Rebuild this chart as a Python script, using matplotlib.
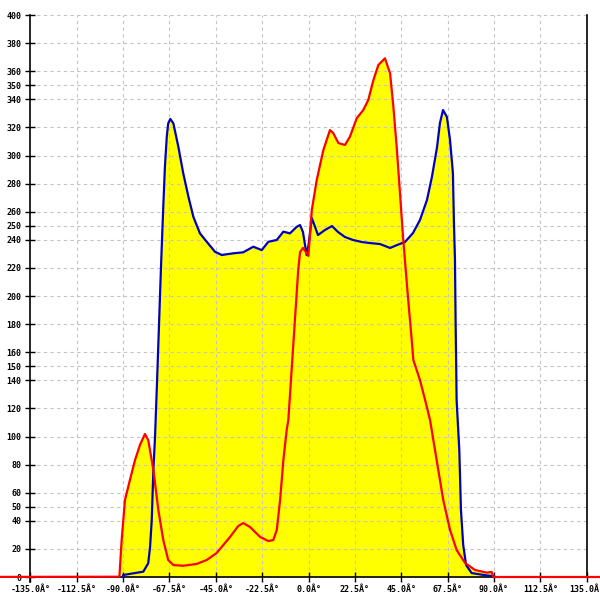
import matplotlib
matplotlib.use('Agg')
import matplotlib.pyplot as plt
import numpy as np

# blue series (angle in degrees, value)
blue_deg = [-90.0, -90.0, -80.2, -77.8, -76.9, -76.1, -75.3, -74.5, -73.5, -71.6, -70.5, -69.7,
            -68.8, -68.1, -67.1, -65.6, -63.2, -60.8, -58.3, -55.9, -52.7, -49.4, -45.4, -42.1,
            -36.5, -31.7, -26.8, -22.7, -19.5, -15.4, -12.2, -9.0, -5.7, -4.1, -2.7, -0.9, 0.0,
            1.6, 3.2, 4.6, 8.0, 11.4, 14.3, 17.7, 21.6, 26.0, 29.9, 34.7, 39.6, 43.0, 46.8, 50.7,
            54.1, 57.5, 59.9, 62.4, 63.8, 65.3, 67.2, 68.7, 70.1, 70.6, 71.1, 71.4, 71.9, 73.2,
            74.0, 75.1, 76.5, 79.2, 86.5, 89.4, 90.0, 90.0]
blue_val = [0.0, 1.4, 3.8, 9.8, 21.6, 40.6, 76.2, 99.9, 140.2, 220.9, 263.6, 292.0,
            313.4, 322.9, 326.0, 322.9, 306.3, 287.3, 270.7, 256.4, 244.6, 238.6, 231.5, 229.2,
            230.4, 231.1, 235.1, 232.7, 238.6, 239.9, 245.8, 244.6, 249.3, 250.5, 245.6, 229.2, 236.3,
            255.5, 249.1, 243.4, 247.0, 249.8, 245.6, 242.0, 239.9, 238.4, 237.7, 237.0, 234.2, 236.3,
            238.4, 244.8, 254.1, 268.3, 284.7, 306.0, 323.1, 332.4, 327.4, 311.0, 287.5, 252.0, 225.6,
            182.9, 126.0, 90.4, 47.7, 22.8, 8.5, 2.8, 1.1, 0.7, 0.7, 0.0]

# red series
red_deg = [-180.0, -91.8, -90.7, -89.1, -86.7, -84.2, -81.8, -79.4, -77.8, -75.3, -72.9, -70.5,
           -68.1, -65.6, -60.8, -54.3, -49.4, -44.6, -38.1, -34.1, -31.7, -28.4, -23.5, -19.5,
           -17.1, -15.4, -13.8, -12.2, -10.6, -9.8, -8.2, -6.6, -5.0, -4.1, -2.7, -0.9, -0.1,
           0.7, 1.6, 4.0, 7.2, 10.4, 12.0, 14.5, 17.7, 20.1, 23.4, 26.6, 29.0, 31.5, 33.9, 37.1,
           39.6, 41.2, 42.8, 44.4, 46.0, 46.8, 48.4, 50.1, 50.9, 54.1, 56.6, 59.0, 62.2, 65.4,
           68.7, 71.9, 76.0, 80.8, 86.5, 88.9, 89.8, 180.0]
red_val = [0.0, 0.2, 26.3, 54.8, 69.0, 83.3, 94.0, 101.8, 97.5, 76.2, 47.7, 26.3,
           12.1, 8.5, 8.0, 9.3, 12.1, 17.1, 28.5, 36.3, 38.4, 35.6, 28.5, 25.6,
           26.3, 33.5, 54.8, 83.3, 104.6, 111.7, 147.3, 182.9, 218.5, 231.3, 234.2, 230.6, 228.5,
           243.4, 261.2, 282.6, 303.9, 318.1, 316.0, 308.9, 307.5, 313.4, 326.5, 332.4, 339.5, 353.7,
           364.4, 369.2, 358.5, 334.7, 306.3, 273.3, 239.9, 225.6, 197.2, 168.7, 154.4, 140.2, 126.0,
           111.7, 83.3, 54.8, 33.5, 19.2, 10.0, 5.0, 3.1, 3.6, 0.0, 0.0]

x_ticks = [-135.0, -112.5, -90.0, -67.5, -45.0, -22.5, 0.0, 22.5, 45.0, 67.5, 90.0, 112.5, 135.0]
y_ticks = [0, 20, 40, 50, 60, 80, 100, 120, 140, 150, 160, 180, 200, 220, 240, 250, 260,
           280, 300, 320, 340, 350, 360, 380, 400]
x_labels = [f'{v:.1f}Â°' for v in x_ticks]

fig = plt.figure(figsize=(6, 6), dpi=100)
ax = fig.add_axes([0, 0, 1, 1])
ax.set_xlim(-149.76, 141.5)
ax.set_ylim(-16.37, 410.7)

# dashed grid, limited to the plot region
ax.hlines([v for v in y_ticks if v > 0], -135, 135, colors='#c4c4c4', linestyles=(0, (3, 3)),
          linewidth=0.8, zorder=1.5)
ax.vlines(x_ticks[1:-1], 0, 400, colors='#c4c4c4', linestyles=(0, (3, 3)),
          linewidth=0.8, zorder=1.5)

ax.fill_between(blue_deg, 0, blue_val, color='#ffff00', lw=0, zorder=1)
ax.fill_between(red_deg, 0, red_val, color='#ffff00', lw=0, zorder=1)
ax.axhline(0, color='k', lw=1.2, zorder=1.8)
ax.plot(blue_deg, blue_val, color='#0000c0', lw=1.6, zorder=3)
ax.plot(red_deg, red_val, color='#ff0000', lw=1.6, zorder=4)

for s in ['top', 'bottom']:
    ax.spines[s].set_visible(False)
ax.spines['left'].set_position(('data', -135))
ax.spines['right'].set_position(('data', 135))
ax.spines['left'].set_bounds(-3.5, 400)
ax.spines['right'].set_bounds(0, 400)
for s in ['left', 'right']:
    ax.spines[s].set_linewidth(1.2)
    ax.spines[s].set_zorder(2)

ax.xaxis.set_ticks_position('bottom')
ax.spines['bottom'].set_position(('data', 0))
ax.spines['bottom'].set_visible(False)
ax.set_xticks(x_ticks)
ax.set_xticklabels(x_labels, family='DejaVu Sans Mono', fontsize=6, fontweight='bold')
ax.set_yticks(y_ticks)
ax.set_yticklabels([str(v) for v in y_ticks], family='DejaVu Sans Mono', fontsize=6,
                   fontweight='bold')
ax.yaxis.set_ticks_position('left')
ax.tick_params(axis='x', direction='inout', length=7, width=1, pad=2)
ax.tick_params(axis='y', direction='inout', length=7, width=1, pad=3)

fig.savefig('out.png', dpi=100)
